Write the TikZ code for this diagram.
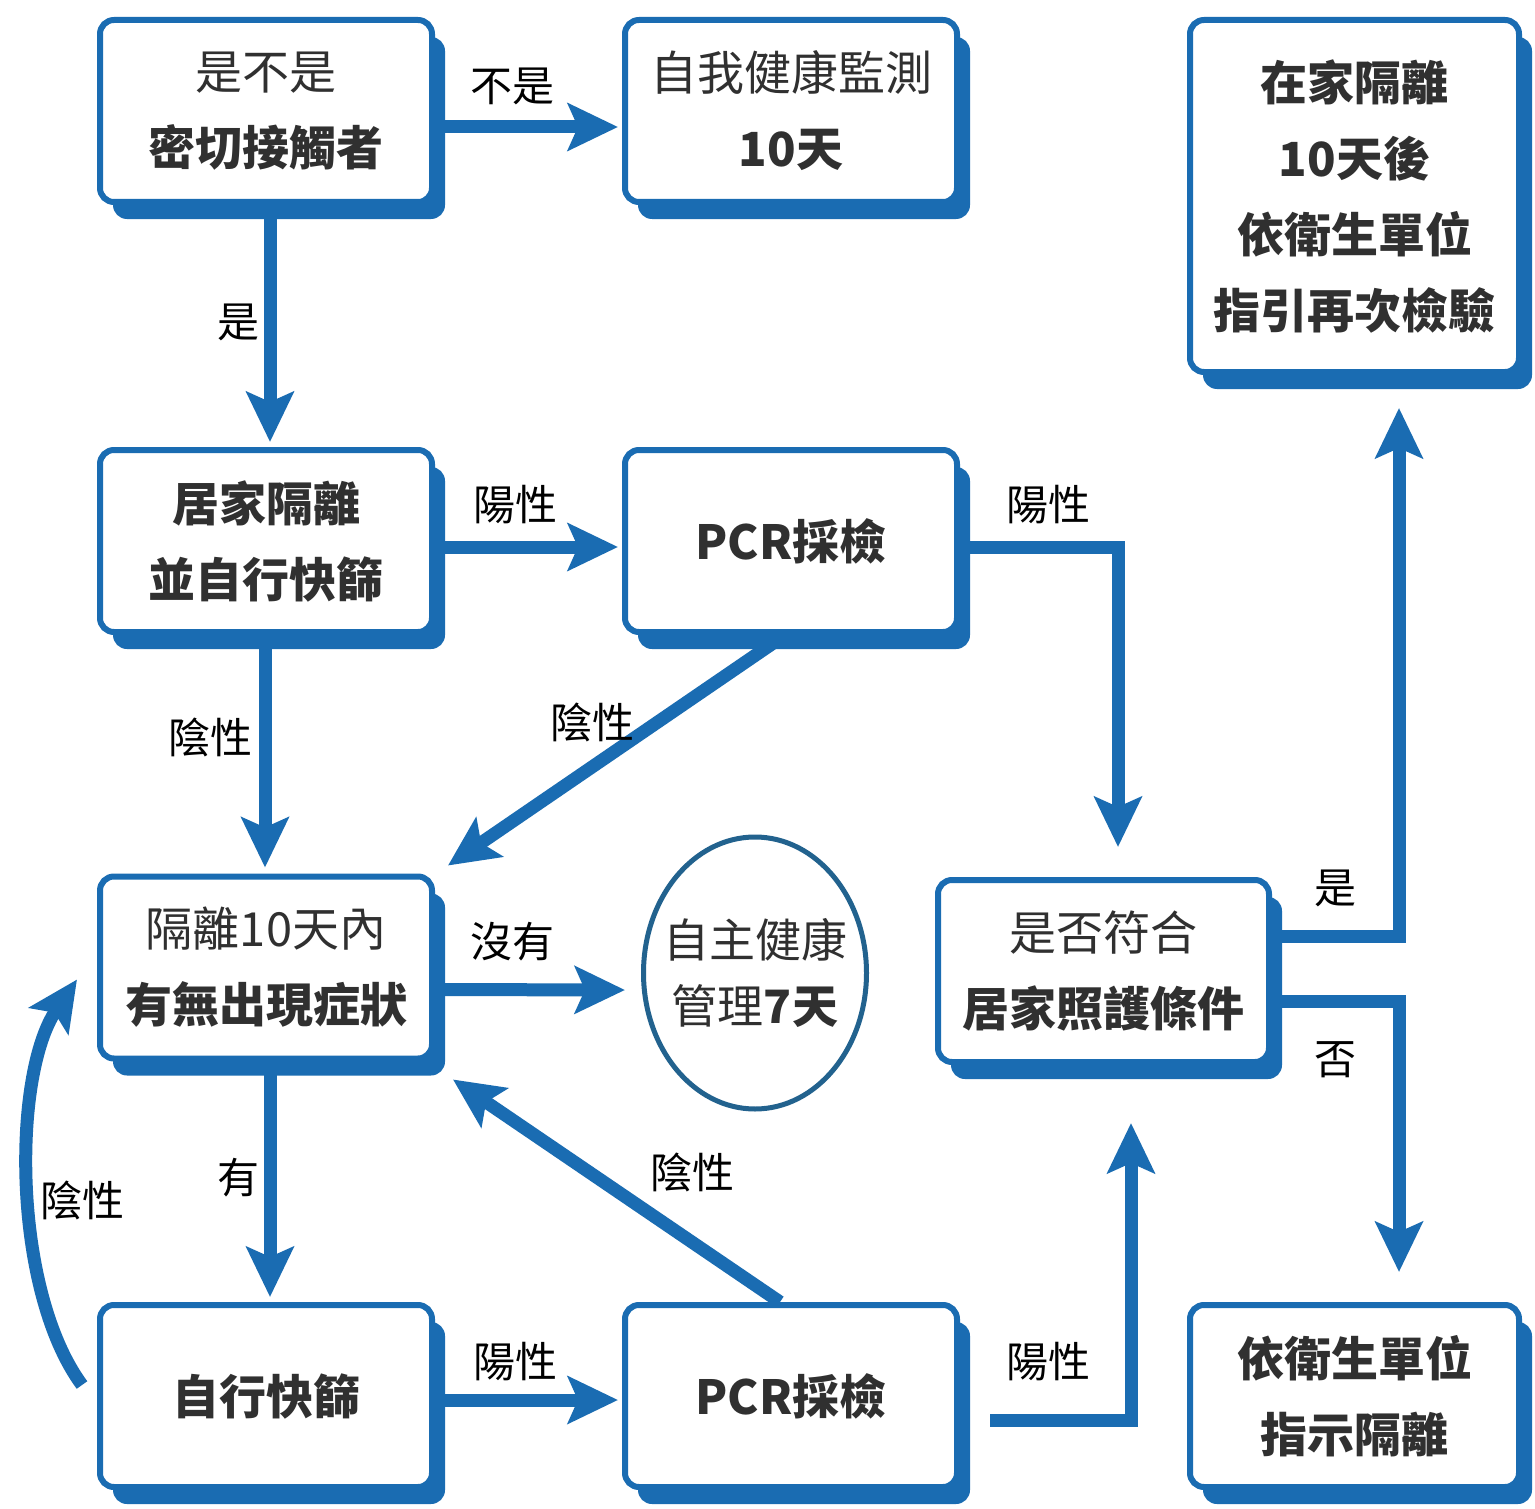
\documentclass[tikz,border=0pt]{standalone}
\usepackage{fontspec}
\setmainfont{Noto Sans CJK TC}
\usetikzlibrary{arrows.meta,shadows,shapes.geometric,backgrounds}
\definecolor{mainblue}{RGB}{26,108,178}
\definecolor{ringblue}{RGB}{34,98,142}
\definecolor{txt}{RGB}{48,48,48}
\begin{document}
\begin{tikzpicture}[x=1pt,y=-1pt,
  box/.style={draw=mainblue,line width=6pt,rounded corners=14pt,fill=white,
    minimum width=332pt,minimum height=182pt,align=center,text=txt,
    font=\fontsize{47}{76}\selectfont,inner sep=0pt,
    drop shadow={shadow xshift=13pt,shadow yshift=-17pt,fill=mainblue,opacity=1}},
  tallbox/.style={box,minimum width=329pt,minimum height=352pt},
  ring/.style={ellipse,draw=ringblue,line width=5pt,fill=white,minimum width=223pt,
    minimum height=272pt,align=center,text=txt,inner xsep=-16pt,inner ysep=0pt,
    font=\fontsize{46}{66}\selectfont},
  lbl/.style={text=black,font=\fontsize{42}{42}\selectfont,inner sep=0pt},
  arr/.style={draw=mainblue,line width=13pt,-{Stealth[length=50pt,width=47pt,inset=10pt]}}]
\useasboundingbox (0,0) rectangle (1535,1509);
% nodes
\node[box] (A) at (266,111) {是不是\\\textbf{密切接觸者}};
\node[box] (B) at (791,111) {自我健康監測\\\textbf{10天}};
\node[tallbox] (C) at (1354.5,196) {\textbf{在家隔離}\\\textbf{10天後}\\\textbf{依衛生單位}\\\textbf{指引再次檢驗}};
\node[box] (D) at (266,541) {\textbf{居家隔離}\\\textbf{並自行快篩}};
\node[box] (E) at (791,541) {\textbf{PCR採檢}};
\node[box] (F) at (266,967.5) {隔離10天內\\\textbf{有無出現症狀}};
\node[ring] (G) at (755,973) {自主健康\\管理\textbf{7天}};
\node[box,minimum width=331pt] (H) at (1103.5,971) {是否符合\\\textbf{居家照護條件}};
\node[box] (I) at (266,1396) {\textbf{自行快篩}};
\node[box] (J) at (791,1396) {\textbf{PCR採檢}};
\node[tallbox,minimum height=182pt] (K) at (1354.5,1396) {\textbf{依衛生單位}\\\textbf{指示隔離}};
% connectors
\begin{scope}[on background layer]
\fill[white] (0,0) rectangle (1535,1509);
\draw[arr] ([yshift=-16pt]A.east) -- ([xshift=-4pt,yshift=-16pt]B.west);
\draw[arr] ([xshift=4pt]A.south) -- ([xshift=4pt,yshift=5pt]D.north);
\draw[arr] ([yshift=-6pt]D.east) -- ([xshift=-4pt,yshift=-6pt]E.west);
\draw[arr] ([yshift=-6pt]E.east) -| ([xshift=14.5pt,yshift=30pt]H.north);
\draw[arr] ([xshift=-1pt]D.south) -- ([xshift=-1pt,yshift=6pt]F.north);
\draw[arr] ([xshift=-6pt]E.south) -- ([xshift=13pt,yshift=8pt]F.north east);
\draw[arr] ([yshift=-22pt]F.east) -- ([xshift=-16pt,yshift=-17pt]G.west);
\draw[arr] ([xshift=4pt]F.south) -- ([xshift=4pt,yshift=5pt]I.north);
\draw[arr] ([yshift=-4pt]I.east) -- ([xshift=-4pt,yshift=-4pt]J.west);
\draw[arr] ([xshift=-11pt]J.north) -- ([xshift=18pt,yshift=-18pt]F.south east);
\draw[arr] ([yshift=35pt]H.east) -| ([xshift=44.5pt,yshift=-33pt]C.south);
\draw[arr] ([yshift=-30pt]H.east) -| ([xshift=44.5pt,yshift=30pt]K.north);
\end{scope}
\draw[arr] ([xshift=30pt,yshift=-24pt]J.east) -| ([xshift=27.5pt,yshift=-58pt]H.south);
\draw[arr] ([xshift=-15pt,yshift=11pt]I.west) .. controls (12,1290) and (12,1075) .. ([xshift=-20pt,yshift=-12pt]F.west);
% labels
\node[lbl] (l1) at (512,86) {不是};
\node[lbl] (l2) at (238,322) {是};
\node[lbl] (l3) at (515,505) {陽性};
\node[lbl] (l4) at (1048,505) {陽性};
\node[lbl] (l5) at (210,737) {陰性};
\node[lbl] (l6) at (592,722) {陰性};
\node[lbl] (l7) at (512,942) {沒有};
\node[lbl] (l8) at (1335,888) {是};
\node[lbl] (l9) at (1335,1060) {否};
\node[lbl] (l10) at (238,1178) {有};
\node[lbl] (l11) at (82,1200) {陰性};
\node[lbl] (l12) at (515,1362) {陽性};
\node[lbl] (l13) at (692,1172) {陰性};
\node[lbl] (l14) at (1048,1362) {陽性};
\end{tikzpicture}
\end{document}
